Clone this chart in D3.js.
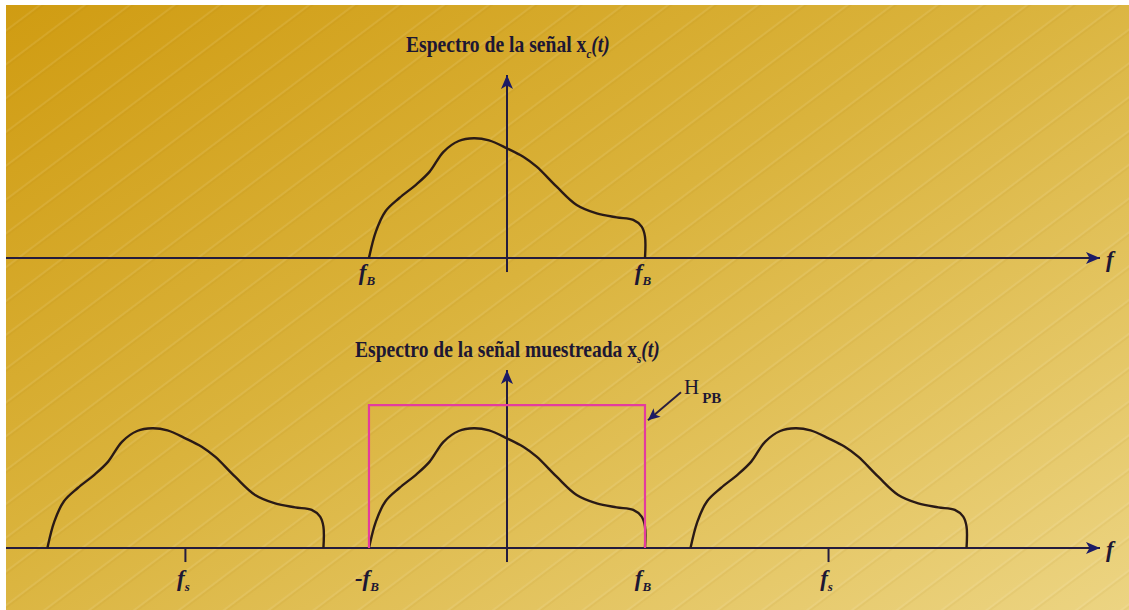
<!DOCTYPE html>
<html>
<head>
<meta charset="utf-8">
<script src="https://cdn.jsdelivr.net/npm/d3@7/dist/d3.min.js"></script>
<style>
  html, body { margin: 0; padding: 0; background: #ffffff; overflow: hidden; }
  svg { display: block; }
</style>
</head>
<body>
<svg id="chart" width="1129" height="610"></svg>
<script>
// Baseband spectrum shape: frequency in units of f_B, magnitude normalized to peak
const shapeFreq = [-1, -0.95, -0.88, -0.78, -0.66, -0.56, -0.46, -0.35, -0.24, -0.13,
                   0, 0.118, 0.215, 0.36, 0.505, 0.65, 0.795, 0.915, 0.976, 1, 1];
const shapeMag  = [0, 0.22, 0.39, 0.50, 0.61, 0.72, 0.885, 0.975, 0.998, 0.98,
                   0.914, 0.844, 0.761, 0.594, 0.442, 0.372, 0.339, 0.317, 0.261, 0.178, 0];

// Sampling frequency (units of f_B) and spectral replicas of the sampled signal
const samplingFreq = 2.33;
const replicaCenters = [-samplingFreq, 0, samplingFreq];

// Ideal low-pass reconstruction filter H_PB
const filterBand = [-1, 1];
const filterGain = 1.19;

// Axis tick positions and their labels [main, subscript]
const topTickFreqs = [-1, 1];
const topTickLabels = [["f", "B"], ["f", "B"]];
const bottomTickFreqs = [-samplingFreq, -1, 1, samplingFreq];
const bottomTickLabels = [["f", "s"], ["-f", "B"], ["f", "B"], ["f", "s"]];
const bottomTickMarks = [-samplingFreq, samplingFreq];

const titleTop = ["Espectro de la señal ", "x", "c", "(t)"];
const titleBottom = ["Espectro de la señal muestreada ", "x", "s", "(t)"];
const filterLabel = ["H", "PB"];

const W = 1129, H = 610;
const svg = d3.select("#chart");
const defs = svg.append("defs");

// ---- background: golden diagonal gradient with faint brushed stripes ----
const grad = defs.append("linearGradient").attr("id", "bg")
  .attr("x1", "0").attr("y1", "0").attr("x2", "1").attr("y2", "1");
grad.append("stop").attr("offset", "0").attr("stop-color", "#d09c12");
grad.append("stop").attr("offset", "0.45").attr("stop-color", "#dab33c");
grad.append("stop").attr("offset", "1").attr("stop-color", "#ecd482");

const pat = defs.append("pattern").attr("id", "stripes")
  .attr("patternUnits", "userSpaceOnUse")
  .attr("width", 60).attr("height", 27)
  .attr("patternTransform", "rotate(-37)");
pat.append("line").attr("x1", 0).attr("y1", 1).attr("x2", 60).attr("y2", 1)
  .attr("stroke", "rgba(255,255,255,0.11)").attr("stroke-width", 1.6);
pat.append("line").attr("x1", 0).attr("y1", 3).attr("x2", 60).attr("y2", 3)
  .attr("stroke", "rgba(140,95,0,0.08)").attr("stroke-width", 1.4);

svg.append("rect").attr("x", 6).attr("y", 5).attr("width", W - 6).attr("height", H - 5)
  .attr("fill", "url(#bg)");
svg.append("rect").attr("x", 6).attr("y", 5).attr("width", W - 6).attr("height", H - 5)
  .attr("fill", "url(#stripes)");

// ---- scales ----
const x = d3.scaleLinear().domain([-3.63, 4.297]).range([6, 1100]);
const yTop = d3.scaleLinear().domain([0, 1]).range([258, 138]);
const yBot = d3.scaleLinear().domain([0, 1]).range([548, 428]);

const axisColor = "#241c3e";
const arrowColor = "#1c1b66";
const curveColor = "#2a1a16";
const textColor = "#1d1733";

// arrowhead markers
function marker(id, color, len, half) {
  defs.append("marker").attr("id", id)
    .attr("viewBox", `0 ${-half} ${len} ${2 * half}`)
    .attr("refX", len).attr("refY", 0)
    .attr("markerWidth", len).attr("markerHeight", 2 * half)
    .attr("markerUnits", "userSpaceOnUse")
    .attr("orient", "auto")
    .append("path").attr("d", `M0,${-half}L${len},0L0,${half}L${len * 0.25},0Z`)
    .attr("fill", color);
}
marker("arrowAxis", arrowColor, 14, 6);
marker("arrowSmall", arrowColor, 12, 5.5);

const shape = shapeFreq.map((f, i) => [f, shapeMag[i]]);

function drawPanel(yScale, vTop, vBottom) {
  const g = svg.append("g");
  // horizontal frequency axis
  g.append("line")
    .attr("x1", x(-3.63)).attr("x2", x(4.297))
    .attr("y1", yScale(0)).attr("y2", yScale(0))
    .attr("stroke", axisColor).attr("stroke-width", 2)
    .attr("marker-end", "url(#arrowAxis)");
  // vertical magnitude axis
  g.append("line")
    .attr("x1", x(0)).attr("x2", x(0))
    .attr("y1", yScale(vBottom)).attr("y2", yScale(vTop))
    .attr("stroke", axisColor).attr("stroke-width", 2)
    .attr("marker-end", "url(#arrowAxis)");
  // axis name
  g.append("text")
    .attr("x", x(4.297) + 6).attr("y", yScale(0) + 9)
    .attr("font-family", "Liberation Serif, serif")
    .attr("font-style", "italic").attr("font-weight", "bold")
    .attr("font-size", 23).attr("fill", textColor)
    .text("f");
  return g;
}

function drawSpectrum(g, yScale, center) {
  const line = d3.line()
    .x(d => x(d[0] + center))
    .y(d => yScale(d[1]))
    .curve(d3.curveCatmullRom.alpha(0.5));
  g.append("path").datum(shape)
    .attr("d", line)
    .attr("fill", "none")
    .attr("stroke", curveColor).attr("stroke-width", 2.4)
    .attr("stroke-linejoin", "round");
}

function tickLabel(g, f, yBase, parts) {
  const t = g.append("text")
    .attr("x", x(f) - 2).attr("y", yBase)
    .attr("text-anchor", "middle")
    .attr("font-family", "Liberation Serif, serif")
    .attr("font-weight", "bold").attr("font-style", "italic")
    .attr("fill", textColor);
  t.append("tspan").attr("font-size", 23).text(parts[0]);
  t.append("tspan").attr("font-size", 13).attr("dy", 5).text(parts[1]);
}

// ---- upper panel: spectrum of x_c(t) ----
const upperPanel = drawPanel(yTop, 1.525, -0.117);
drawSpectrum(upperPanel, yTop, 0);
topTickFreqs.forEach((f, i) => tickLabel(upperPanel, f, 280, topTickLabels[i]));

// ---- lower panel: spectrum of the sampled signal x_s(t) ----
const lowerPanel = drawPanel(yBot, 1.483, -0.117);
replicaCenters.forEach(c => drawSpectrum(lowerPanel, yBot, c));
bottomTickMarks.forEach(f => {
  lowerPanel.append("line")
    .attr("x1", x(f)).attr("x2", x(f))
    .attr("y1", yBot(0)).attr("y2", yBot(-0.117))
    .attr("stroke", axisColor).attr("stroke-width", 2);
});
bottomTickFreqs.forEach((f, i) => tickLabel(lowerPanel, f, 586, bottomTickLabels[i]));

// low-pass filter window
lowerPanel.append("path")
  .attr("d", `M${x(filterBand[0])},${yBot(0)}V${yBot(filterGain)}H${x(filterBand[1])}V${yBot(0)}`)
  .attr("fill", "none")
  .attr("stroke", "#e43c9e").attr("stroke-width", 2.2);

// filter annotation arrow and label
lowerPanel.append("line")
  .attr("x1", x(filterBand[1]) + 36).attr("y1", yBot(filterGain) - 13)
  .attr("x2", x(filterBand[1]) + 3).attr("y2", yBot(filterGain) + 15)
  .attr("stroke", "#2a1f3e").attr("stroke-width", 2)
  .attr("marker-end", "url(#arrowSmall)");
const hl = lowerPanel.append("text")
  .attr("x", x(filterBand[1]) + 39).attr("y", yBot(filterGain) - 11)
  .attr("font-family", "Liberation Serif, serif")
  .attr("fill", textColor);
hl.append("tspan").attr("font-size", 21).text(filterLabel[0]);
hl.append("tspan").attr("font-size", 15).attr("font-weight", "bold")
  .attr("dx", 3).attr("dy", 9).text(filterLabel[1]);

// ---- titles (condensed bold serif) ----
function title(parts, xLeft, yBase, width) {
  const t = svg.append("text")
    .attr("x", xLeft).attr("y", yBase)
    .attr("font-family", "Liberation Serif, serif")
    .attr("font-weight", "bold")
    .attr("font-size", 23)
    .attr("fill", textColor);
  t.append("tspan").text(parts[0]);
  t.append("tspan").text(parts[1]);
  t.append("tspan").attr("font-size", 13).attr("font-style", "italic").attr("dy", 6).text(parts[2]);
  t.append("tspan").attr("font-style", "italic").attr("dy", -6).text(parts[3]);
  const w = t.node().getComputedTextLength();
  const k = width / w;
  t.attr("transform", `translate(${xLeft},0) scale(${k},1) translate(${-xLeft},0)`);
}
title(titleTop, 406, 52, 204);
title(titleBottom, 355, 357, 305);
</script>
</body>
</html>
